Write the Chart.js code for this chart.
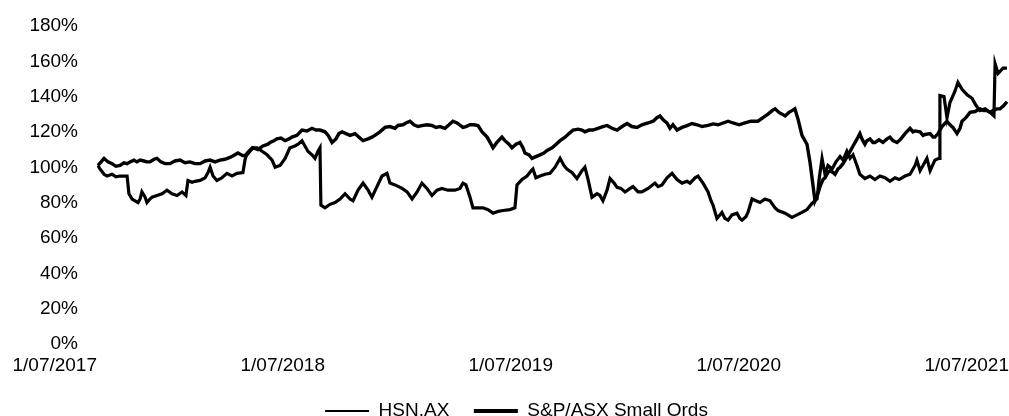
<!DOCTYPE html>
<html>
<head>
<meta charset="utf-8">
<title>HSN.AX vs S&amp;P/ASX Small Ords</title>
<script src="https://cdn.jsdelivr.net/npm/chart.js@4"></script>
<style>
  body { margin: 0; background: #fff; }
  canvas { display: block; }
</style>
</head>
<body>
<canvas id="chart" width="1009" height="416"></canvas>
<script>
// x values are years since 1/07/2017, y values are % of the starting price
const startYear = 2017;
const xTickLabels = ["1/07/2017", "1/07/2018", "1/07/2019", "1/07/2020", "1/07/2021"];
const seriesNames = ["HSN.AX", "S&P/ASX Small Ords"];

const hsnT = [
  0.004, 0.013, 0.031, 0.044, 0.066, 0.083, 0.101, 0.118, 0.132, 0.140,
  0.154, 0.167, 0.180, 0.189, 0.197, 0.211, 0.219, 0.232, 0.241, 0.263,
  0.285, 0.307, 0.329, 0.351, 0.373, 0.390, 0.399, 0.417, 0.430, 0.452,
  0.474, 0.487, 0.496, 0.509, 0.526, 0.548, 0.570, 0.592, 0.614, 0.640,
  0.649, 0.658, 0.680, 0.702, 0.724, 0.746, 0.768, 0.781, 0.803, 0.825,
  0.846, 0.868, 0.882, 0.899, 0.912, 0.925, 0.943, 0.956, 0.969, 0.978,
  0.982, 1.000, 1.022, 1.044, 1.066, 1.088, 1.110, 1.123, 1.145, 1.167,
  1.189, 1.206, 1.228, 1.250, 1.272, 1.285, 1.307, 1.338, 1.360, 1.382,
  1.404, 1.425, 1.447, 1.469, 1.491, 1.513, 1.539, 1.570, 1.592, 1.605,
  1.618, 1.636, 1.649, 1.671, 1.693, 1.715, 1.737, 1.759, 1.781, 1.811,
  1.833, 1.842, 1.864, 1.886, 1.904, 1.912, 1.925, 1.943, 1.965, 1.987,
  2.009, 2.031, 2.048, 2.061, 2.083, 2.105, 2.127, 2.140, 2.154, 2.171,
  2.193, 2.206, 2.219, 2.237, 2.250, 2.268, 2.281, 2.298, 2.316, 2.338,
  2.351, 2.373, 2.390, 2.417, 2.447, 2.461, 2.478, 2.500, 2.522, 2.544,
  2.566, 2.588, 2.601, 2.623, 2.636, 2.658, 2.680, 2.693, 2.702, 2.719,
  2.732, 2.741, 2.754, 2.768, 2.785, 2.807, 2.820, 2.829, 2.846, 2.855,
  2.873, 2.890, 2.908, 2.930, 2.952, 2.974, 2.987, 3.018, 3.048, 3.070,
  3.092, 3.114, 3.136, 3.158, 3.167, 3.180, 3.193, 3.206, 3.224, 3.241,
  3.259, 3.272, 3.289, 3.303, 3.316, 3.333, 3.346, 3.368, 3.390, 3.412,
  3.434, 3.456, 3.478, 3.500, 3.518, 3.544, 3.566, 3.588, 3.596, 3.610,
  3.627, 3.640, 3.654, 3.675, 3.693, 3.697, 3.715, 3.728, 3.741, 3.763,
  3.776, 3.794, 3.816, 3.838, 3.855, 3.873, 3.895, 3.917, 3.934, 3.939,
  3.952, 3.974, 3.991
];
const hsnValues = [
  100, 98, 95, 94, 95, 93.5, 94, 94, 94, 84,
  81, 80, 79, 81, 85, 82, 79, 81, 82, 83,
  84, 86, 84, 83, 85, 83, 91.5, 90.5, 91, 91.5,
  93, 96, 99, 94, 91.5, 93, 95.5, 94, 95.5, 96,
  103, 107, 110, 110, 108, 106, 103, 99, 100, 104,
  110, 111, 112, 114, 111, 108, 106, 104, 108, 110,
  77.5, 76, 78, 79, 81, 84, 81, 80, 86, 90,
  86, 82, 88, 94, 95.5, 90, 89, 87, 85, 81,
  85, 90, 87, 83, 86, 87, 86, 86, 87, 90,
  89, 82, 76, 76, 76, 75, 73, 74, 74.5, 75,
  76, 89, 92, 94, 97, 98, 93, 94, 95, 95.5,
  99, 104, 100, 98, 96, 92.6, 97, 99, 92, 82,
  84, 83, 80, 86, 92.6, 90, 87.6, 87, 85, 87,
  88, 85, 85, 87, 90, 88, 89, 93, 95.5, 92,
  90, 91, 90, 93, 94, 90, 85, 80, 77.5, 70,
  72, 73.4, 70, 69, 72, 73, 70, 69, 71, 73.4,
  81, 80, 79, 81, 80, 76, 74.5, 73, 70.6, 72,
  73.4, 75, 78.5, 81, 92, 104, 95, 100, 98, 102,
  105, 103, 108, 104, 106, 100, 95, 92.6, 94, 92,
  94, 93, 91, 93, 92, 94, 95, 100, 103, 97,
  101, 104, 97, 103, 104, 139.5, 139, 127, 135.6, 142,
  147, 143, 140, 138, 134, 131, 132, 130, 128, 157.6,
  152, 155, 155
];

const ordsT = [
  0.004, 0.018, 0.031, 0.048, 0.066, 0.083, 0.101, 0.118, 0.132, 0.145,
  0.162, 0.175, 0.189, 0.206, 0.219, 0.232, 0.250, 0.263, 0.280, 0.298,
  0.320, 0.342, 0.364, 0.386, 0.408, 0.430, 0.452, 0.474, 0.496, 0.518,
  0.539, 0.561, 0.583, 0.605, 0.618, 0.640, 0.658, 0.671, 0.684, 0.706,
  0.728, 0.750, 0.759, 0.776, 0.789, 0.807, 0.825, 0.842, 0.855, 0.877,
  0.899, 0.921, 0.943, 0.960, 0.978, 1.000, 1.014, 1.031, 1.048, 1.061,
  1.075, 1.092, 1.110, 1.132, 1.149, 1.167, 1.189, 1.206, 1.219, 1.241,
  1.263, 1.285, 1.307, 1.320, 1.342, 1.355, 1.373, 1.390, 1.408, 1.425,
  1.447, 1.469, 1.487, 1.504, 1.526, 1.544, 1.561, 1.579, 1.605, 1.618,
  1.636, 1.654, 1.671, 1.689, 1.711, 1.724, 1.737, 1.754, 1.776, 1.789,
  1.807, 1.820, 1.838, 1.855, 1.868, 1.877, 1.895, 1.908, 1.925, 1.943,
  1.960, 1.974, 1.996, 2.014, 2.031, 2.053, 2.070, 2.088, 2.110, 2.127,
  2.140, 2.158, 2.175, 2.197, 2.219, 2.237, 2.259, 2.281, 2.303, 2.325,
  2.346, 2.368, 2.390, 2.417, 2.439, 2.456, 2.469, 2.482, 2.500, 2.513,
  2.526, 2.544, 2.566, 2.588, 2.610, 2.632, 2.654, 2.680, 2.702, 2.724,
  2.746, 2.768, 2.790, 2.816, 2.842, 2.868, 2.899, 2.921, 2.943, 2.961,
  2.974, 2.991, 3.005, 3.018, 3.035, 3.048, 3.061, 3.075, 3.092, 3.114,
  3.127, 3.136, 3.149, 3.162, 3.171, 3.184, 3.193, 3.206, 3.215, 3.228,
  3.237, 3.250, 3.259, 3.272, 3.281, 3.294, 3.303, 3.316, 3.325, 3.338,
  3.346, 3.355, 3.368, 3.377, 3.390, 3.403, 3.412, 3.430, 3.447, 3.465,
  3.478, 3.491, 3.509, 3.526, 3.544, 3.566, 3.579, 3.588, 3.610, 3.623,
  3.632, 3.654, 3.667, 3.675, 3.689, 3.706, 3.728, 3.741, 3.754, 3.772,
  3.785, 3.794, 3.811, 3.829, 3.851, 3.873, 3.890, 3.904, 3.917, 3.930,
  3.947, 3.961, 3.978, 3.991
];
const ordsValues = [
  100, 102, 104, 102, 101, 99.5, 100, 101.5, 101, 102,
  103, 102, 103, 102.5, 102, 102, 103.5, 104, 102, 101,
  101, 102.5, 103, 101.5, 102, 101, 101, 102.5, 103, 102,
  103, 103.5, 104.5, 106, 107, 105.5, 106, 108, 110, 109,
  111, 112, 113, 114, 115, 115.5, 114, 115, 116, 117,
  120, 119.5, 121, 120, 120, 119, 117, 113, 115, 118,
  119, 118, 117, 118, 116, 114, 115, 116, 117, 119,
  121.5, 122, 121, 122.6, 123, 124, 125, 123, 122, 122.5,
  123, 122.6, 121.5, 122, 121, 123, 125, 124, 121.5, 122,
  123, 123, 122.6, 119, 116, 113, 110, 113, 116, 114,
  112, 110, 112, 113, 110, 107, 106, 104, 105, 106,
  107, 108.5, 110, 112, 114, 116, 118, 120, 120.5, 120,
  119, 120, 120, 121, 122, 122.6, 121, 120, 122, 123.7,
  122, 121.5, 123, 124, 125, 127, 128, 126, 124, 121,
  123, 120, 121.5, 122.5, 123.7, 123, 122, 122.6, 123.5, 123,
  124, 125, 124, 123, 124, 125, 125, 127, 129, 131,
  132, 130, 129, 128, 130, 131, 132, 126, 117, 112,
  102, 93, 80, 84, 88, 92, 93, 96, 97, 96,
  95, 98, 99, 101, 103, 106, 108, 111, 113, 116,
  118, 115, 112, 114, 115, 113, 113, 114.5, 113, 115,
  116, 114, 113, 115, 118, 121, 119, 119.5, 119, 117,
  117.5, 118, 116, 116, 118, 122, 125, 123, 121.5, 118,
  121, 125, 127, 130, 130.5, 132, 131, 131, 130, 131,
  132, 132, 134, 136
];

function toPoints(ts, values) {
  const n = Math.min(ts.length, values.length);
  const points = [];
  for (let i = 0; i < n; i++) {
    points.push({ x: startYear + ts[i], y: values[i] });
  }
  return points;
}

Chart.defaults.font.family = '"Liberation Sans", Arial, sans-serif';
Chart.defaults.font.size = 19;
Chart.defaults.color = "#000";

// invisible tick marks give the label gaps without padding the chart edges
const hiddenTicks = (length) => ({
  display: true,
  drawOnChartArea: false,
  drawTicks: true,
  tickLength: length,
  color: "rgba(0,0,0,0)",
});

// the legend sits a little right of centre in the original
const nudgeLegend = {
  id: "nudgeLegend",
  afterLayout(chart) {
    chart.legend.left += 12;
    chart.legend.right += 12;
  },
};

new Chart(document.getElementById("chart"), {
  type: "line",
  data: {
    datasets: [
      {
        label: seriesNames[0],
        data: toPoints(hsnT, hsnValues),
        borderColor: "#000",
        backgroundColor: "#000",
        borderWidth: 3.2,
        pointRadius: 0,
        pointStyle: "line",
        tension: 0,
      },
      {
        label: seriesNames[1],
        data: toPoints(ordsT, ordsValues),
        borderColor: "#000",
        backgroundColor: "#000",
        borderWidth: 3.4,
        pointRadius: 0,
        pointStyle: "line",
        tension: 0,
      },
    ],
  },
  options: {
    responsive: false,
    animation: false,
    layout: { padding: { top: 24, right: 0, bottom: -14.5, left: 0 } },
    scales: {
      x: {
        type: "linear",
        min: startYear,
        max: startYear + 4,
        grid: hiddenTicks(12),
        border: { display: false },
        ticks: {
          stepSize: 1,
          align: "end",
          padding: 0,
          maxRotation: 0,
          callback: (value, index) => xTickLabels[index],
        },
      },
      y: {
        min: 0,
        max: 180,
        grid: hiddenTicks(16),
        border: { display: false },
        ticks: {
          stepSize: 20,
          padding: 3,
          labelOffset: 2,
          callback: (value) => value + "%",
        },
        afterFit: (scale) => {
          scale.width = 97;
        },
      },
    },
    plugins: {
      tooltip: { enabled: false },
      legend: {
        position: "bottom",
        labels: {
          usePointStyle: true,
          pointStyleWidth: 44,
          padding: 24.5,
          generateLabels: (chart) =>
            Chart.defaults.plugins.legend.labels
              .generateLabels(chart)
              .map((item, i) => ({ ...item, lineWidth: i === 0 ? 2 : 4 })),
        },
      },
    },
  },
  plugins: [nudgeLegend],
});
</script>
</body>
</html>
